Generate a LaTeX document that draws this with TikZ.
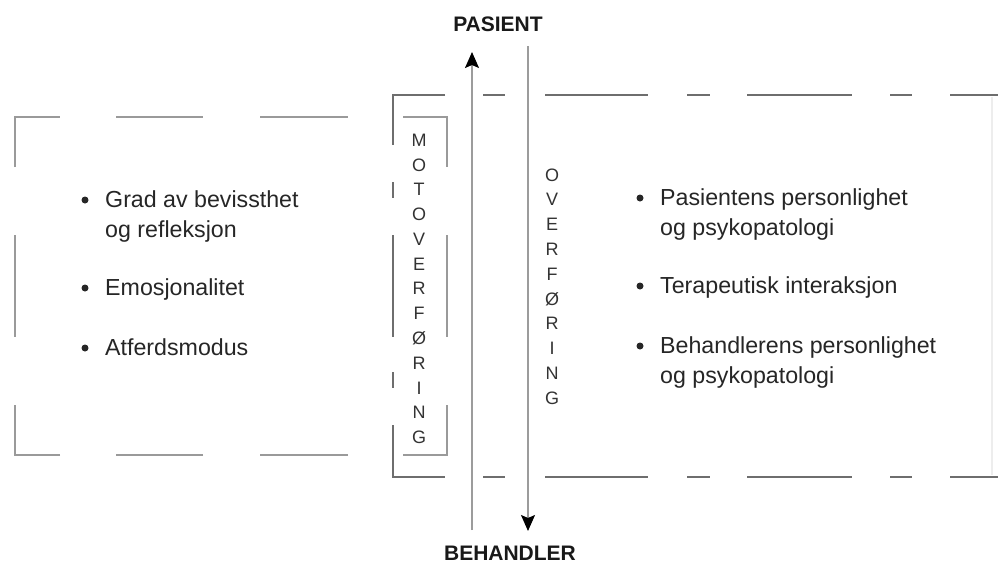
\documentclass[tikz,border=0pt]{standalone}
\usepackage{fontspec}
\setmainfont{Liberation Sans}
\usetikzlibrary{arrows.meta}
\definecolor{boxgrayA}{HTML}{9A9A9A}
\definecolor{boxgrayB}{HTML}{6E6E6E}
\definecolor{arrowgray}{HTML}{9C9C9C}
\definecolor{faintgray}{HTML}{EDEDED}
\tikzset{
  leftbox/.style={draw=boxgrayA, line width=2pt},
  rightbox/.style={draw=boxgrayB, line width=2pt},
  flow/.style={draw=arrowgray, line width=1.6pt, -{Stealth[length=16pt,width=14pt,inset=3pt,color=black]}},
  item/.style={anchor=base west, inner sep=0pt, font=\fontsize{23.2}{27}\selectfont, text=black!85},
  dot/.style={circle, fill=black!85, inner sep=0pt, minimum size=7pt},
  vletter/.style={inner sep=0pt, font=\fontsize{18}{20}\selectfont, text=black!80},
  endlabel/.style={inner sep=0pt, font=\bfseries\fontsize{21}{24}\selectfont, text=black!90}
}
\begin{document}
\begin{tikzpicture}[x=1pt,y=-1pt]
\useasboundingbox (0,0) rectangle (998,565);
\fill[white] (0,0) rectangle (998,565);

% left dashed box
\draw[leftbox] (15,167)--(15,117)--(60,117);
\draw[leftbox] (116,117)--(203,117);
\draw[leftbox] (260,117)--(348,117);
\draw[leftbox] (403,117)--(447,117)--(447,167);
\draw[leftbox] (447,235)--(447,337);
\draw[leftbox] (447,405)--(447,455)--(403,455);
\draw[leftbox] (348,455)--(260,455);
\draw[leftbox] (203,455)--(116,455);
\draw[leftbox] (60,455)--(15,455)--(15,405);
\draw[leftbox] (15,235)--(15,337);

% right dashed box
\draw[rightbox] (445,95)--(393,95)--(393,145);
\draw[rightbox] (393,182)--(393,198);
\draw[rightbox] (393,235)--(393,337);
\draw[rightbox] (393,372)--(393,388);
\draw[rightbox] (393,425)--(393,477)--(445,477);
\foreach \a/\b in {483/505,545/648,687/710,747/852,890/912,950/998}{
  \draw[rightbox] (\a,95)--(\b,95);
  \draw[rightbox] (\a,477)--(\b,477);
}
\draw[draw=faintgray, line width=1.5pt] (992,97)--(992,475);

% end labels
\node[endlabel] (pasient) at (498,24) {PASIENT};
\node[endlabel] (behandler) at (510,553) {BEHANDLER};

% flows
\coordinate (upstart) at (472,530);
\coordinate (upend) at (472,52);
\coordinate (downstart) at (528,46);
\coordinate (downend) at (528,531);
\draw[flow] (upstart) -- (upend);
\draw[flow] (downstart) -- (downend);

% vertical words
\foreach \l [count=\i from 0] in {M,O,T,O,V,E,R,F,Ø,R,I,N,G}{
  \node[vletter] (mo\i) at (419,140+24.8*\i) {\l};
}
\foreach \l [count=\i from 0] in {O,V,E,R,F,Ø,R,I,N,G}{
  \node[vletter] (ov\i) at (552,175+24.8*\i) {\l};
}

% left list
\node[dot] (ld1) at (85,200) {};
\node[item] (lt1) at (105,207) {Grad av bevissthet};
\node[item] (lt1b) at (105,237) {og refleksjon};
\node[dot] (ld2) at (85,288) {};
\node[item] (lt2) at (105,295) {Emosjonalitet};
\node[dot] (ld3) at (85,348) {};
\node[item] (lt3) at (105,355) {Atferdsmodus};

% right list
\node[dot] (rd1) at (640,198) {};
\node[item] (rt1) at (660,205) {Pasientens personlighet};
\node[item] (rt1b) at (660,235) {og psykopatologi};
\node[dot] (rd2) at (640,286) {};
\node[item] (rt2) at (660,293) {Terapeutisk interaksjon};
\node[dot] (rd3) at (640,346) {};
\node[item] (rt3) at (660,353) {Behandlerens personlighet};
\node[item] (rt3b) at (660,383) {og psykopatologi};
\end{tikzpicture}
\end{document}
